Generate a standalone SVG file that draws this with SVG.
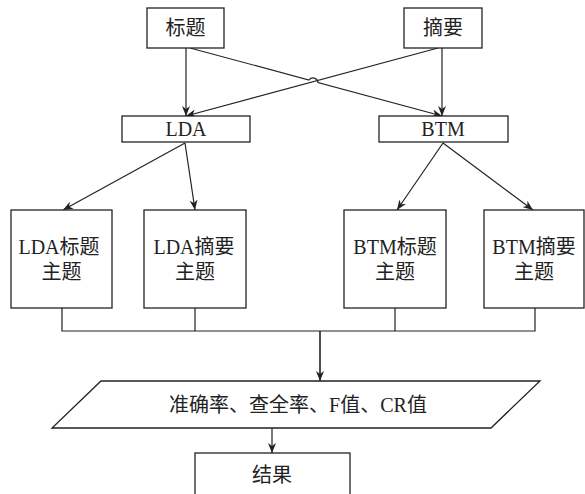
<svg xmlns="http://www.w3.org/2000/svg" width="585" height="494" viewBox="0 0 585 494">
<defs>
<marker id="ah" viewBox="0 0 10 8" refX="10" refY="4" markerWidth="10" markerHeight="8" markerUnits="userSpaceOnUse" orient="auto">
<path d="M0,0 L10,4 L0,8 L3,4 z" fill="#222"/>
</marker>
<style>
.b{fill:#fff;stroke:#222;stroke-width:1.3}
.t{font-family:"Liberation Serif","Noto Sans CJK SC",serif;font-size:20px;fill:#222;text-anchor:middle;dominant-baseline:central}
.c{fill:none;stroke:#222;stroke-width:1.2}
.a{marker-end:url(#ah)}
</style>
</defs>
<rect width="585" height="494" fill="#fff"/>
<g id="connectors">
<line class="c a" x1="186" y1="48" x2="186" y2="116"/>
<line class="c a" x1="442" y1="48" x2="442" y2="116"/>
<path class="c a" d="M190,48 L309,80 A5,5 0 0 1 318,82.5 L442,116"/>
<line class="c a" x1="438" y1="48" x2="186" y2="116"/>
<line class="c a" x1="185" y1="143" x2="63" y2="210"/>
<line class="c a" x1="185" y1="143" x2="195" y2="210"/>
<line class="c a" x1="443" y1="143" x2="397" y2="210"/>
<line class="c a" x1="443" y1="143" x2="533" y2="210"/>
<path class="c" d="M62,308 V331 H535 V308 M195,308 V331 M395,308 V331"/>
<line class="c a" x1="320" y1="331" x2="320" y2="381" style="stroke-width:1.6"/>
<line class="c a" x1="272" y1="428" x2="272" y2="453"/>
</g>
<g id="n-title"><rect class="b" x="147" y="8" width="77" height="40"/><text class="t" x="185.5" y="28">标题</text></g>
<g id="n-abstract"><rect class="b" x="404" y="8" width="78" height="40"/><text class="t" x="443" y="28">摘要</text></g>
<g id="n-lda"><rect class="b" x="122" y="116" width="128" height="26"/><text class="t" x="186" y="129">LDA</text></g>
<g id="n-btm"><rect class="b" x="379" y="116" width="129" height="26"/><text class="t" x="443" y="129">BTM</text></g>
<g id="n-lda-title"><rect class="b" x="11" y="210" width="101" height="98"/><text class="t" x="59" y="247">LDA标题</text><text class="t" x="61.5" y="272">主题</text></g>
<g id="n-lda-abs"><rect class="b" x="144" y="210" width="102" height="98"/><text class="t" x="194" y="247">LDA摘要</text><text class="t" x="195" y="272">主题</text></g>
<g id="n-btm-title"><rect class="b" x="344" y="210" width="102" height="98"/><text class="t" x="395" y="247">BTM标题</text><text class="t" x="395" y="272">主题</text></g>
<g id="n-btm-abs"><rect class="b" x="484" y="210" width="100" height="98"/><text class="t" x="534" y="247">BTM摘要</text><text class="t" x="534" y="272">主题</text></g>
<g id="n-metrics"><polygon class="b" points="101,381 540,381 491,428 52,428"/><text class="t" x="298" y="405">准确率、查全率、F值、CR值</text></g>
<g id="n-result"><rect class="b" x="195" y="453" width="155" height="50"/><text class="t" x="272" y="475">结果</text></g>
</svg>
